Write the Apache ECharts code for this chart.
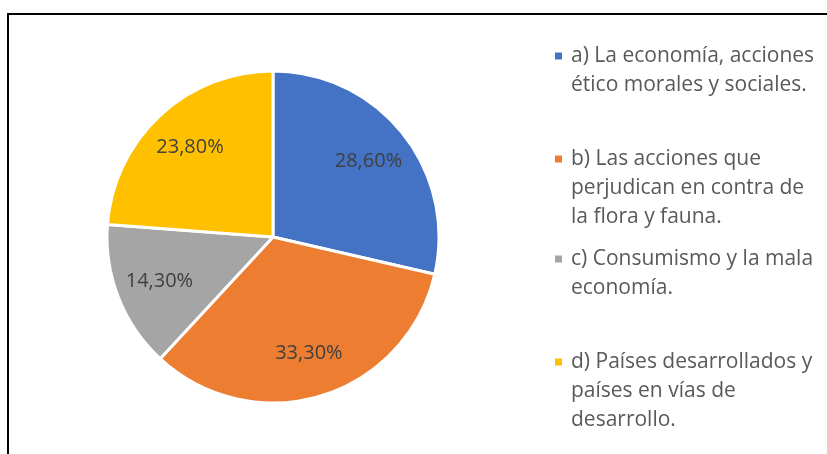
<!DOCTYPE html>
<html>
<head>
<meta charset="utf-8">
<script src="https://cdn.jsdelivr.net/npm/echarts@6/dist/echarts.min.js"></script>
<style>
    html, body {margin: 0; padding: 0; background: #fff;}
    #main {width: 827px; height: 454px;}
</style>
</head>
<body>
<div id="main"></div>
<script>
var myChart = echarts.init(document.getElementById("main"));

// categorias y valores (%)
var categories = [
    'a) La economía, acciones ético morales y sociales.',
    'b) Las acciones que perjudican en contra de la flora y fauna.',
    'c) Consumismo y la mala economía.',
    'd) Países desarrollados y países en vías de desarrollo.'
];
var values = [28.6, 33.3, 14.3, 23.8];
var colors = ['#4472C4', '#ED7D31', '#A5A5A5', '#FFC000'];
// lineas de la leyenda tal como aparecen
var legendLines = [
    ['a) La economía, acciones', 'ético morales y sociales.'],
    ['b) Las acciones que', 'perjudican en contra de', 'la flora y fauna.'],
    ['c) Consumismo y la mala', 'economía.'],
    ['d) Países desarrollados y', 'países en vías de', 'desarrollo.']
];

var LH = 29;
var firstLine = [55, 158, 258, 361]; // centro de la primera linea de cada entrada

var pieData = [];
for (var i = 0; i < categories.length; i++) {
    pieData.push({value: values[i], name: categories[i], itemStyle: {color: colors[i]}});
}

var legends = [];
for (var j = 0; j < categories.length; j++) {
    var n = legendLines[j].length;
    var h = n * LH;
    // cuadrado pequeño alineado con la primera linea
    var sq = LH / 2 - 4.5;
    var icon = 'path://M0,' + sq + 'h9v9h-9z M0,0h0.001 M12,' + h + 'h0.001';
    legends.push({
        orient: 'vertical',
        left: 553,
        top: firstLine[j] - LH / 2,
        padding: 0,
        itemWidth: 12,
        itemHeight: h,
        icon: icon,
        symbolKeepAspect: false,
        selectedMode: false,
        data: [categories[j]],
        formatter: (function (k) {
            return function () {
                return legendLines[k].join('\n');
            };
        })(j),
        textStyle: {
            fontFamily: 'Open Sans',
            fontSize: 21,
            color: '#595959',
            lineHeight: LH
        }
    });
}

var option = {
    backgroundColor: '#fff',
    animation: false,
    graphic: [{
        type: 'rect',
        shape: {x: 8, y: 14, width: 900, height: 500},
        style: {fill: 'none', stroke: '#000', lineWidth: 2},
        silent: true
    }],
    legend: legends,
    series: [
        {
            name: 'pie',
            type: 'pie',
            center: [273, 237],
            radius: [0, 166],
            startAngle: 90,
            clockwise: true,
            label: {show: false},
            labelLine: {show: false},
            itemStyle: {borderColor: '#fff', borderWidth: 3},
            emphasis: {disabled: true},
            data: pieData
        },
        {
            // capa transparente solo para colocar las etiquetas
            name: 'labels',
            type: 'pie',
            center: [273, 237],
            radius: [72, 166],
            startAngle: 90,
            clockwise: true,
            silent: true,
            itemStyle: {color: 'transparent', borderWidth: 0},
            emphasis: {disabled: true},
            label: {
                show: true,
                position: 'inside',
                fontFamily: 'Open Sans',
                fontSize: 20,
                color: '#404040',
                formatter: function (p) {
                    return p.value.toFixed(2).replace('.', ',') + '%';
                }
            },
            data: values.map(function (v) { return {value: v}; })
        }
    ]
};
myChart.setOption(option);
</script>
</body>
</html>
